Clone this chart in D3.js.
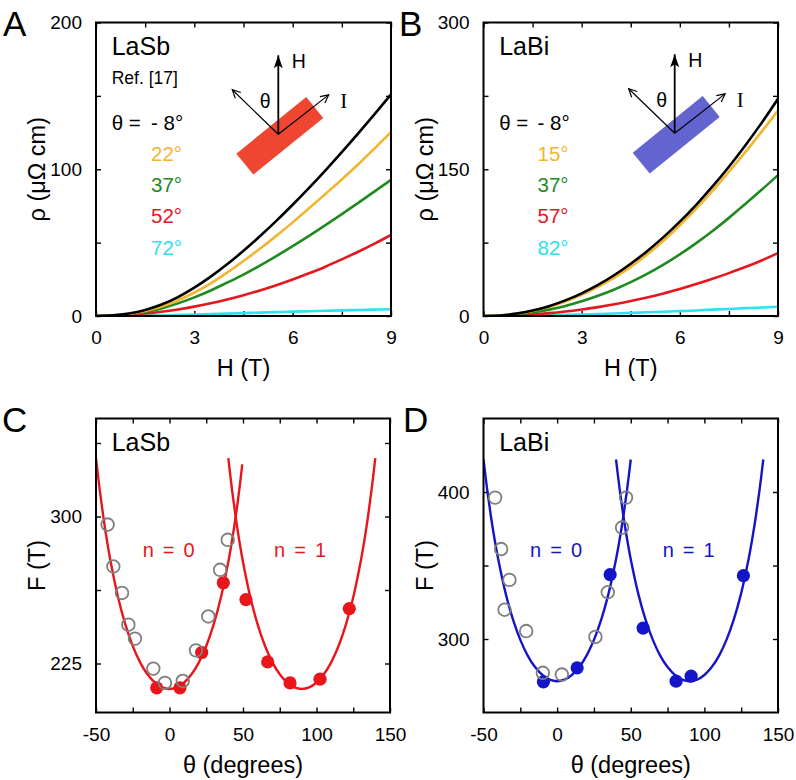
<!DOCTYPE html>
<html><head><meta charset="utf-8">
<script src="https://cdn.jsdelivr.net/npm/d3@7"></script>
<style>
body{margin:0;background:#fff;}
svg{display:block;font-family:"Liberation Sans",Arial,Helvetica,sans-serif;}
</style></head><body>
<svg id="chart" width="796" height="780"></svg>
<script>
// ---------------- DATA ----------------
const fieldT = [0,0.5,1,1.5,2,2.5,3,3.5,4,4.5,5,5.5,6,6.5,7,7.5,8,8.5,9];

// Panel A: LaSb rho(H) in µΩ cm
const laSbAngles = ["- 8°","22°","37°","52°","72°"];
const laSb_m8 = [0,0.4,1.7,4.1,7.8,12.9,19.3,26.8,35.2,44.4,54.3,64.8,75.8,87.3,99.3,111.7,124.5,137.6,151.0];
const laSb_22 = [0,0.33,1.41,3.4,6.47,10.7,16.0,22.3,29.6,37.5,45.8,54.6,63.8,73.4,83.2,93.0,103.4,114.2,125.3];
const laSb_37 = [0,0.28,1.15,2.75,5.2,8.6,12.7,17.4,22.7,28.2,34.3,40.8,47.6,54.6,61.9,69.4,77.1,84.9,92.8];
const laSb_52 = [0,0.19,0.74,1.65,2.89,4.48,6.40,8.67,11.26,14.2,17.4,21.0,24.9,29.1,33.6,38.6,43.8,49.3,55.2];
const laSb_72 = [0,0.03,0.12,0.27,0.47,0.72,1.0,1.3,1.62,1.95,2.3,2.62,2.95,3.25,3.55,3.85,4.1,4.35,4.6];

// Panel B: LaBi rho(H)
const laBiAngles = ["- 8°","15°","37°","57°","82°"];
const laBi_m8 = [0,0.58,2.42,5.58,10.07,15.94,23.2,31.8,41.9,53.4,66.3,80.6,96.4,113.7,132.4,152.6,174.3,197.4,222];
const laBi_15 = [0,0.55,2.27,5.2,9.4,14.9,21.7,29.8,39.3,50.2,62.9,77.0,92.8,109.8,128.0,147.5,167.5,188.5,210];
const laBi_37 = [0,0.38,1.57,3.6,6.5,10.3,15.0,20.6,27.1,34.6,43.0,52.5,63.0,74.5,86.9,100.3,114.5,129.0,144];
const laBi_57 = [0,0.17,0.69,1.6,2.9,4.6,6.7,9.1,12.0,15.3,19.0,23.1,27.7,32.6,38.0,43.8,50.0,56.8,64.2];
const laBi_82 = [0,0.05,0.2,0.4,0.7,1.1,1.6,2.1,2.6,3.2,3.8,4.4,5.0,5.7,6.5,7.2,8.0,8.7,9.5];

const seriesColors = ["#000000","#f2b530","#1f8a1f","#e3171f","#2fe0f0"];

// Panel C: LaSb frequency vs angle
const cOpenTheta = [-42.1,-38.2,-32.3,-28,-23.5,-11,-3.1,9,18,26.4,34.4,39.6];
const cOpenF     = [295.9,274.5,261,244.8,237.7,222.4,215.1,216.1,231.7,249,272.8,288.1];
const cFillTheta = [-8.7,7.1,21.9,36.6,52,66.8,82,102.4,122.3];
const cFillF     = [212.6,212.6,230.6,266.2,257.6,225.8,215.1,217,253];
const cFit0Theta = [-50,-47.5,-45,-42.5,-40,-35,-30,-25,-20,-15,-10,-5,0,5,10,15,20,25,30,35,40,42.5,45,47.5,49.5];
const cFit1Theta = [40,42.5,45,47.5,50,55,60,65,70,75,80,85,90,95,100,105,110,115,120,125,130,132.5,135,137.5,140];
const cFit0F = [329.8,313.8,299.8,287.5,276.8,258.8,244.8,233.9,225.6,219.5,215.3,212.8,212,212.8,215.3,219.5,225.6,233.9,244.8,258.8,276.8,287.5,299.8,313.8,326.6];
const cFit1F = [329.8,313.8,299.8,287.5,276.8,258.8,244.8,233.9,225.6,219.5,215.3,212.8,212,212.8,215.3,219.5,225.6,233.9,244.8,258.8,276.8,287.5,299.8,313.8,329.8];

// Panel D: LaBi frequency vs angle
const dOpenTheta = [-42.1,-38,-32.4,-35.7,-21,-9.7,3.2,26,34.4,44.1,46.8];
const dOpenF     = [396.2,361.2,340.2,319.9,305.4,277,275.8,301.4,331.8,375.8,396.2];
const dFillTheta = [-9.3,13.6,36,58.4,80.8,91,126.5];
const dFillF     = [270.9,280.4,343.8,307.4,271.3,274.7,343.1];
const dFit0Theta = [-50,-47.5,-45,-42.5,-40,-35,-30,-25,-20,-15,-10,-5,0,5,10,15,20,25,30,35,40,42.5,45,47.5,50];
const dFit1Theta = [40,42.5,45,47.5,50,55,60,65,70,75,80,85,90,95,100,105,110,115,120,125,130,132.5,135,137.5,140];
const dFitF = [422.1,401.6,383.7,368,354.2,331.2,313.3,299.4,288.7,280.9,275.5,272.3,271.3,272.3,275.5,280.9,288.7,299.4,313.3,331.2,354.2,368,383.7,401.6,422.1];

// ticks
const ticksH = [0,1.5,3,4.5,6,7.5,9], labH = [0,3,6,9];
const ticksRhoA = [0,50,100,150,200], labRhoA = [0,100,200];
const ticksRhoB = [0,75,150,225,300], labRhoB = [0,150,300];
const ticksTheta = [-50,-25,0,25,50,75,100,125,150], labTheta = [-50,0,50,100,150];
const ticksFC = [225,262.5,300,337.5], labFC = [225,300];
const ticksFD = [300,350,400], labFD = [300,400];

// ---------------- DRAW ----------------
const svg = d3.select("#chart");
const defs = svg.append("defs");
defs.append("marker").attr("id","openHead").attr("viewBox","-10 -6 12 12")
  .attr("refX",0).attr("refY",0).attr("markerWidth",12).attr("markerHeight",12)
  .attr("markerUnits","userSpaceOnUse").attr("orient","auto")
  .append("path").attr("d","M-8,-4 L0,0 L-8,4").attr("fill","none").attr("stroke","#000").attr("stroke-width",1.2);
defs.append("marker").attr("id","fillHead").attr("viewBox","-14 -6 15 12")
  .attr("refX",0).attr("refY",0).attr("markerWidth",15).attr("markerHeight",12)
  .attr("markerUnits","userSpaceOnUse").attr("orient","auto")
  .append("path").attr("d","M-13,-4.5 L0,0 L-13,4.5 L-10,0 Z").attr("fill","#000");

function makePanel(o){
  const x = d3.scaleLinear().domain(o.xd).range([o.x0,o.x1]);
  const y = d3.scaleLinear().domain(o.yd).range([o.y1,o.y0]);
  const g = svg.append("g");
  defs.append("clipPath").attr("id","clip"+o.id).append("rect")
    .attr("x",o.x0).attr("y",o.y0).attr("width",o.x1-o.x0).attr("height",o.y1-o.y0);
  const fmtX = d => o.xlab.includes(d) ? String(d) : "";
  const fmtY = d => o.ylab.includes(d) ? String(d) : "";
  const style = s => {
    s.select(".domain").remove();
    s.selectAll(".tick line").attr("stroke","#000").attr("stroke-width",1.4);
    s.selectAll(".tick text").attr("font-size",19).attr("font-family","Liberation Sans, Arial, sans-serif").attr("fill","#000");
  };
  g.append("g").attr("transform",`translate(0,${o.y1})`)
    .call(d3.axisBottom(x).tickValues(o.xticks).tickSize(-5).tickPadding(15).tickFormat(fmtX)).call(style);
  g.append("g").attr("transform",`translate(0,${o.y0})`)
    .call(d3.axisTop(x).tickValues(o.xticks).tickSize(-5).tickFormat("")).call(style);
  g.append("g").attr("transform",`translate(${o.x0},0)`)
    .call(d3.axisLeft(y).tickValues(o.yticks).tickSize(-5).tickPadding(14).tickFormat(fmtY)).call(style);
  g.append("g").attr("transform",`translate(${o.x1},0)`)
    .call(d3.axisRight(y).tickValues(o.yticks).tickSize(-5).tickFormat("")).call(style);
  // axis titles
  svg.append("text").attr("x",(o.x0+o.x1)/2).attr("y",o.y1+60).attr("text-anchor","middle")
    .attr("font-size",23.5).text(o.xtitle);
  svg.append("text").attr("transform",`translate(${o.x0-51},${(o.y0+o.y1)/2}) rotate(-90)`)
    .attr("text-anchor","middle").attr("font-size",23.5).text(o.ytitle);
  // panel letter
  svg.append("text").attr("x",o.letterX).attr("y",o.y0+13).attr("font-size",35).text(o.letter);
  const plot = svg.append("g").attr("clip-path",`url(#clip${o.id})`);
  const frame = () => svg.append("rect").attr("x",o.x0).attr("y",o.y0).attr("width",o.x1-o.x0)
      .attr("height",o.y1-o.y0).attr("fill","none").attr("stroke","#000").attr("stroke-width",2);
  return {x,y,plot,frame};
}

function inset(ox, oy, color){
  const g = svg.append("g");
  g.append("rect").attr("transform",`translate(${ox+1.5},${oy+1.5}) rotate(-39)`)
    .attr("x",-45).attr("y",-13.5).attr("width",90).attr("height",27).attr("fill",color);
  g.append("line").attr("x1",ox).attr("y1",oy).attr("x2",ox+50.4).attr("y2",oy-39.4)
    .attr("stroke","#000").attr("stroke-width",1.2).attr("marker-end","url(#openHead)");
  g.append("line").attr("x1",ox).attr("y1",oy).attr("x2",ox-46).attr("y2",oy-44.5)
    .attr("stroke","#000").attr("stroke-width",1.2).attr("marker-end","url(#openHead)");
  g.append("line").attr("x1",ox).attr("y1",oy).attr("x2",ox).attr("y2",oy-79)
    .attr("stroke","#000").attr("stroke-width",1.8).attr("marker-end","url(#fillHead)");
  g.append("text").attr("x",ox+13.5).attr("y",oy-66).attr("font-size",19.5).text("H");
  g.append("text").attr("x",ox-18.5).attr("y",oy-26).attr("font-size",19.5).text("θ");
  g.append("text").attr("x",ox+62).attr("y",oy-26).attr("font-size",21)
    .attr("font-family","Liberation Serif, Times New Roman, serif").text("I");
}

function rhoPanel(o, seriesList, angles, sample, ox, oy, rectColor, showRef){
  const p = makePanel(o);
  inset(ox, oy, rectColor);
  const line = d3.line().x((d,i)=>p.x(fieldT[i])).y(d=>p.y(d)).curve(d3.curveMonotoneX);
  seriesList.slice().reverse().forEach((s,ri)=>{
    const i = seriesList.length-1-ri;
    p.plot.append("path").attr("d",line(s)).attr("fill","none")
      .attr("stroke",seriesColors[i]).attr("stroke-width",2.6).attr("stroke-linejoin","round");
  });
  p.frame();
  svg.append("text").attr("x",o.x0+15.7).attr("y",55).attr("font-size",25).text(sample);
  if(showRef) svg.append("text").attr("x",o.x0+15.7).attr("y",83.5).attr("font-size",17.5).text("Ref. [17]");
  const base = [129.5,160.8,192,223.3,254.6];
  svg.append("text").attr("x",o.x0+15.7).attr("y",base[0]).attr("font-size",20.5).text("θ =");
  angles.forEach((a,i)=>{
    svg.append("text").attr("x",o.legX).attr("y",base[i]).attr("font-size",20.5)
      .attr("fill",seriesColors[i]).text(a);
  });
}

function fPanel(o, openT, openF, fillT, fillF, fit0T, fit0F, fit1T, fit1F, color, sample){
  const p = makePanel(o);
  const line = d3.line().x(d=>p.x(d[0])).y(d=>p.y(d[1])).curve(d3.curveCatmullRom.alpha(0.5));
  [[fit0T,fit0F],[fit1T,fit1F]].forEach(([t,f])=>{
    p.plot.append("path").attr("d",line(t.map((v,i)=>[v,f[i]]))).attr("fill","none")
      .attr("stroke",color).attr("stroke-width",2.4);
  });
  p.plot.selectAll(null).data(fillT.map((v,i)=>[v,fillF[i]])).join("circle")
    .attr("cx",d=>p.x(d[0])).attr("cy",d=>p.y(d[1])).attr("r",6.6).attr("fill",color);
  p.plot.selectAll(null).data(openT.map((v,i)=>[v,openF[i]])).join("circle")
    .attr("cx",d=>p.x(d[0])).attr("cy",d=>p.y(d[1])).attr("r",6.3)
    .attr("fill","none").attr("stroke","#7f7f7f").attr("stroke-width",1.8);
  p.frame();
  svg.append("text").attr("x",o.x0+15.7).attr("y",450.5).attr("font-size",25).text(sample);
  svg.append("text").attr("x",o.n0x).attr("y",556.7).attr("font-size",20).attr("word-spacing",3.5)
    .attr("fill",color).text("n = 0");
  svg.append("text").attr("x",o.n1x).attr("y",556.7).attr("font-size",20).attr("word-spacing",3.5)
    .attr("fill",color).text("n = 1");
}

const rhoTitle = "ρ (μΩ cm)";
rhoPanel({id:"A",x0:96,x1:391,y0:22.5,y1:316,xd:[0,9],yd:[0,200],xticks:ticksH,xlab:labH,
  yticks:ticksRhoA,ylab:labRhoA,xtitle:"H (T)",ytitle:rhoTitle,letter:"A",letterX:3,legX:151},
  [laSb_m8,laSb_22,laSb_37,laSb_52,laSb_72], laSbAngles, "LaSb", 278.3, 134.3, "#ef4631", true);
rhoPanel({id:"B",x0:483.5,x1:778,y0:22.5,y1:316,xd:[0,9],yd:[0,300],xticks:ticksH,xlab:labH,
  yticks:ticksRhoB,ylab:labRhoB,xtitle:"H (T)",ytitle:rhoTitle,letter:"B",letterX:399,legX:537.5},
  [laBi_m8,laBi_15,laBi_37,laBi_57,laBi_82], laBiAngles, "LaBi", 674.7, 133.3, "#6464d0", false);
fPanel({id:"C",x0:96,x1:390,y0:418.5,y1:712.5,xd:[-50,150],yd:[200,350],xticks:ticksTheta,xlab:labTheta,
  yticks:ticksFC,ylab:labFC,xtitle:"θ (degrees)",ytitle:"F (T)",letter:"C",letterX:2,n0x:142.7,n1x:274},
  cOpenTheta,cOpenF,cFillTheta,cFillF,cFit0Theta,cFit0F,cFit1Theta,cFit1F,"#e8161b","LaSb");
fPanel({id:"D",x0:483.5,x1:778,y0:418.5,y1:712.5,xd:[-50,150],yd:[250,450],xticks:ticksTheta,xlab:labTheta,
  yticks:ticksFD,ylab:labFD,xtitle:"θ (degrees)",ytitle:"F (T)",letter:"D",letterX:403,n0x:530,n1x:662.7},
  dOpenTheta,dOpenF,dFillTheta,dFillF,dFit0Theta,dFitF,dFit1Theta,dFitF,"#1414c8","LaBi");
</script>
</body></html>
